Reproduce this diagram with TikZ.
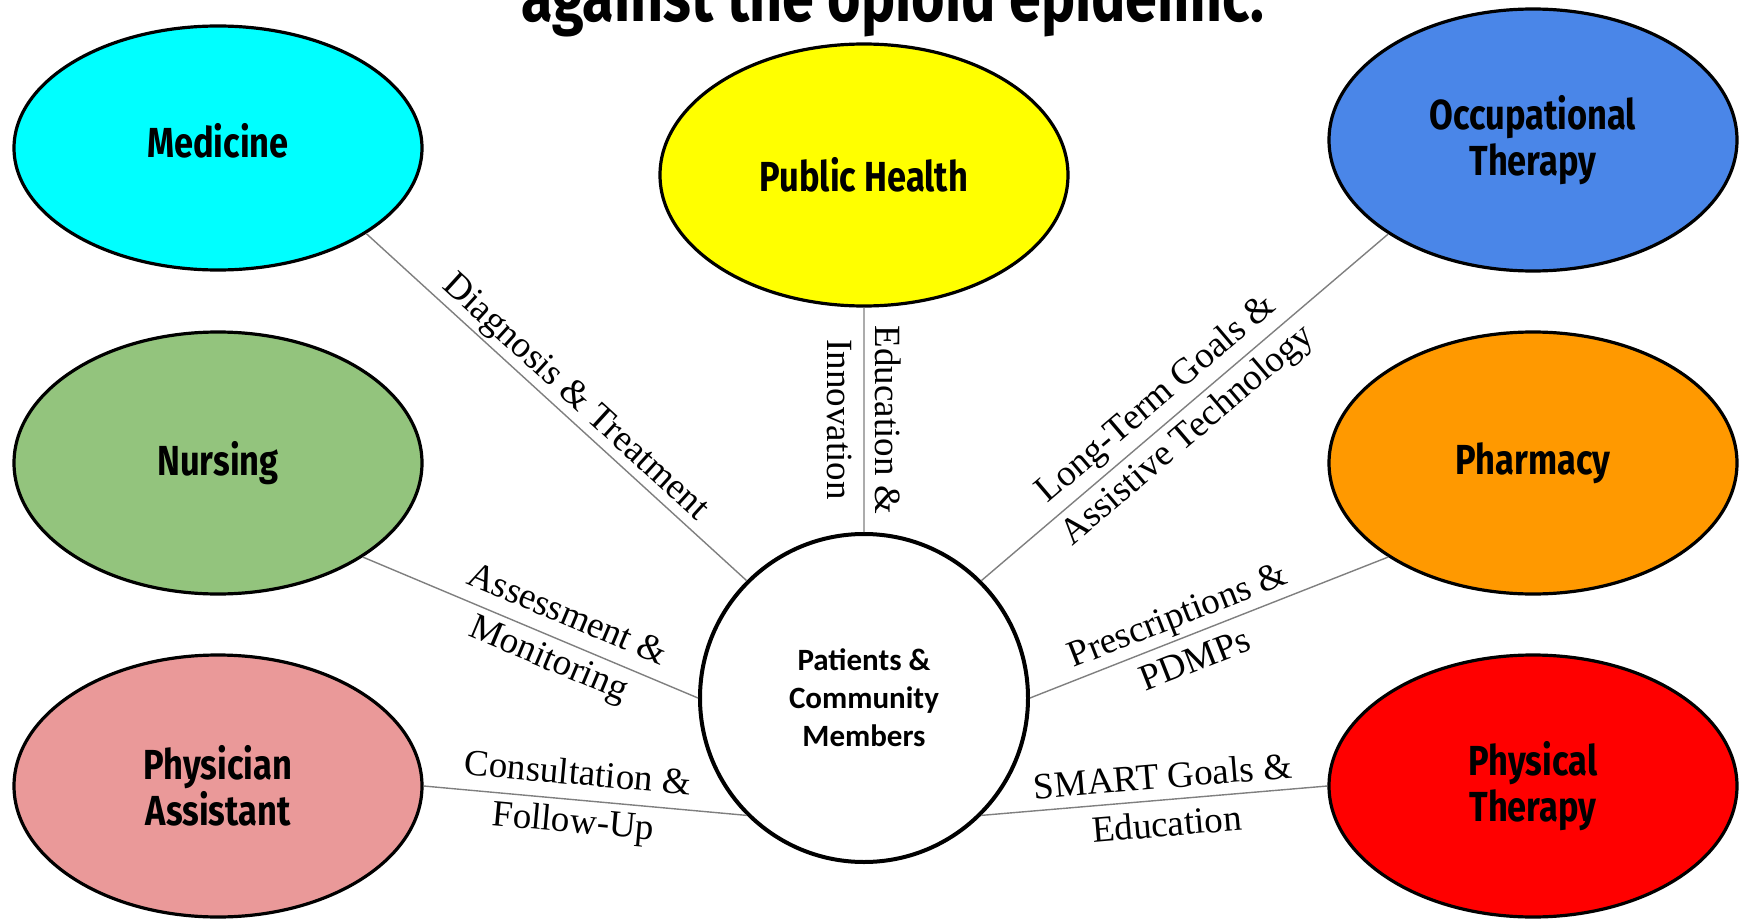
\documentclass[tikz,border=0pt]{standalone}
\usepackage{fontspec}
\setmainfont{Liberation Serif}
\newfontfamily\headfont[FakeStretch=0.82]{Fira Sans}
\newfontfamily\hubfont{Carlito}
\usepackage{tikz}
\usetikzlibrary{shapes.geometric}

\definecolor{medcol}{HTML}{00FFFF}
\definecolor{pubcol}{HTML}{FFFF00}
\definecolor{occcol}{HTML}{4A86E8}
\definecolor{nurcol}{HTML}{93C47D}
\definecolor{phacol}{HTML}{FF9900}
\definecolor{pacol}{HTML}{EA9999}
\definecolor{phycol}{HTML}{FF0000}
\definecolor{linkgray}{HTML}{7F7F7F}

\begin{document}
\begin{tikzpicture}[x=0.5pt,y=-0.5pt,
  field/.style={draw, ellipse, line width=1.6pt, minimum width=204pt, minimum height=131pt, inner sep=0pt, align=center, font=\headfont\bfseries\fontsize{21}{23}\selectfont},
  hub/.style={draw, circle, line width=2pt, minimum size=164pt, inner sep=0pt, align=center, font=\hubfont\bfseries\fontsize{15.5}{19}\selectfont},
  link/.style={draw=linkgray, line width=0.7pt},
  lab/.style={font=\fontsize{18.5}{24}\selectfont, align=center, inner sep=1pt}]
\useasboundingbox (0,0) rectangle (1746,920);
\node (ttl) at (893,22) [anchor=base, font=\headfont\bfseries\fontsize{35}{40}\selectfont] {against the opioid epidemic.};
% the fields round the hub
\node (med) at (218,148) [field, fill=medcol, minimum height=122pt, text depth=8pt] {Medicine};
\node (pubh) at (864,175) [field, fill=pubcol] {Public Health};
\node (occt) at (1533,140) [field, fill=occcol] {Occupational\\Therapy};
\node (nurs) at (218,463) [field, fill=nurcol] {Nursing};
\node (pharm) at (1533,463) [field, fill=phacol] {Pharmacy};
\node (pa) at (218,786) [field, fill=pacol] {Physician\\Assistant};
\node (phys) at (1533,786) [field, fill=phycol] {Physical\\Therapy};
\node (pc) at (864,698) [hub] {Patients \&\\Community\\Members};
% links
\draw[link]
(med.-30) to node[pos=.515, sloped, above, lab] {Diagnosis \& Treatment} (pc.135)
(pubh.south) to node[midway, rotate=-90, lab] {Education \&\\Innovation} (pc.north)
(occt.-147) to node[pos=.53, sloped, lab] {Long-Term Goals \&\\Assistive Technology} (pc.45)
(nurs.-33) to node[pos=.58, sloped, lab] {Assessment \&\\Monitoring} (pc.west)
(pharm.-147) to node[pos=.565, sloped, lab] {Prescriptions \&\\PDMPs} (pc.east)
(pa.east) to node[pos=.47, sloped, lab] {Consultation \&\\Follow-Up} (pc.-135)
(phys.west) to node[pos=.47, sloped, lab] {SMART Goals \&\\Education} (pc.-45);
\end{tikzpicture}
\end{document}
